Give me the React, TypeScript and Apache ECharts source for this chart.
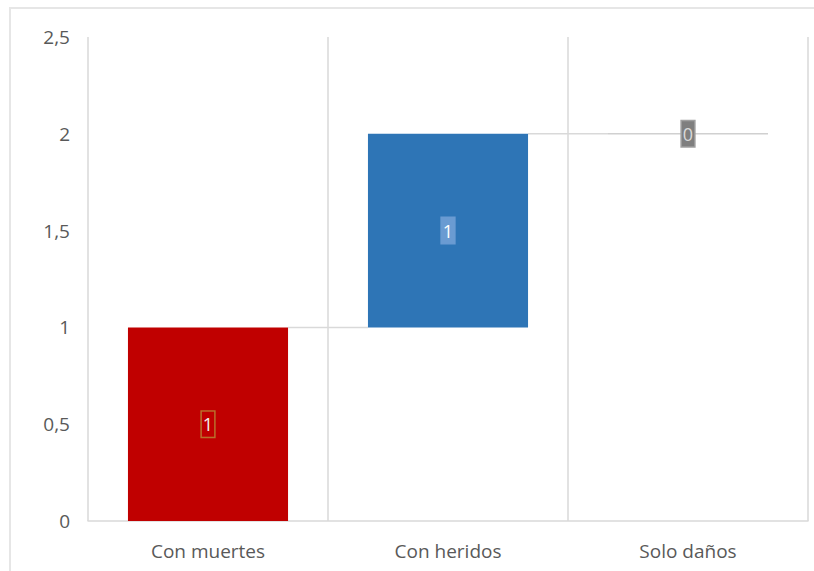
import React, { useEffect, useRef } from "react";
import * as echarts from "echarts";

const categories = ["Con muertes", "Con heridos", "Solo daños"];
const changes = [1, 1, 0];
const yTicks = { min: 0, max: 2.5, step: 0.5 };

const bases: number[] = [];
const ends: number[] = [];
{
  let run = 0;
  for (const c of changes) {
    bases.push(run);
    run += c;
    ends.push(run);
  }
}

const FONT = "Open Sans";
const barColors = ["#C00000", "#2E75B6", "#7F7F7F"];
const labelStyles = [
  { backgroundColor: "#C00000", borderColor: "#B9702C", color: "#F2F2F2" },
  { backgroundColor: "#6A9BD2", borderColor: "#6A9BD2", color: "#FFFFFF" },
  { backgroundColor: "#7F7F7F", borderColor: "#A0A0A0", color: "#D9D9D9" },
];

export default function App() {
  const ref = useRef<HTMLDivElement>(null);
  useEffect(() => {
    if (!ref.current) return;
    const chart = echarts.init(ref.current, null, { renderer: "svg" });
    const option: any = {
      animation: false,
      backgroundColor: "#FFFFFF",
      textStyle: { fontFamily: FONT },
      graphic: [
        {
          type: "rect",
          shape: { x: 10, y: 8, width: 830, height: 600 },
          style: { fill: "none", stroke: "#E6E6E6", lineWidth: 2 },
          silent: true,
          z: -1,
        },
      ],
      grid: { left: 88, right: 6, top: 37, bottom: 50 },
      xAxis: {
        type: "category",
        data: categories,
        boundaryGap: true,
        axisLine: { show: true, lineStyle: { color: "#D9D9D9", width: 1.5 } },
        axisTick: { show: false },
        splitLine: { show: true, lineStyle: { color: "#D9D9D9", width: 1.5 } },
        axisLabel: {
          color: "#595959",
          fontSize: 19,
          fontFamily: FONT,
          margin: 20,
        },
      },
      yAxis: {
        type: "value",
        min: yTicks.min,
        max: yTicks.max,
        interval: yTicks.step,
        axisLine: { show: false },
        axisTick: { show: false },
        splitLine: { show: false },
        axisLabel: {
          color: "#595959",
          fontSize: 19,
          fontFamily: FONT,
          margin: 18,
          formatter: (v: number) => String(v).replace(".", ","),
        },
      },
      series: [
        {
          type: "bar",
          stack: "wf",
          barCategoryGap: "33.3%",
          data: bases,
          itemStyle: { color: "transparent" },
          silent: true,
        },
        {
          type: "bar",
          stack: "wf",
          barCategoryGap: "33.3%",
          data: changes.map((v, i) => ({
            value: v,
            itemStyle: { color: barColors[i] },
            label: {
              show: true,
              position: "inside",
              fontSize: 18,
              fontFamily: FONT,
              padding: [4, 1, 3, 1],
              borderWidth: 1.5,
              ...labelStyles[i],
            },
          })),
          label: { show: true, formatter: "{c}" },
          z: 3,
        },
        {
          type: "custom",
          silent: true,
          z: 2,
          data: ends.map((e, i) => [i, e, changes[i]]),
          renderItem: (params: any, api: any) => {
            const i = api.value(0);
            const e = api.value(1);
            const c = api.value(2);
            const bw = api.size([1, 0])[0] * (2 / 3);
            const p = api.coord([i, e]);
            const children: any[] = [];
            if (i < ends.length - 1) {
              const q = api.coord([i + 1, e]);
              children.push({
                type: "line",
                shape: { x1: p[0] + bw / 2, y1: p[1], x2: q[0] - bw / 2, y2: p[1] },
                style: { stroke: "#D9D9D9", lineWidth: 1.5 },
              });
            }
            if (c === 0) {
              children.push({
                type: "line",
                shape: { x1: p[0] - bw / 2, y1: p[1], x2: p[0] + bw / 2, y2: p[1] },
                style: { stroke: "#D0D0D0", lineWidth: 1.5 },
              });
            }
            return { type: "group", children };
          },
        },
      ],
    };
    chart.setOption(option);
    return () => chart.dispose();
  }, []);
  return (
    <div
      ref={ref}
      style={{ position: "fixed", left: 0, top: 0, width: 814, height: 571 }}
    />
  );
}
